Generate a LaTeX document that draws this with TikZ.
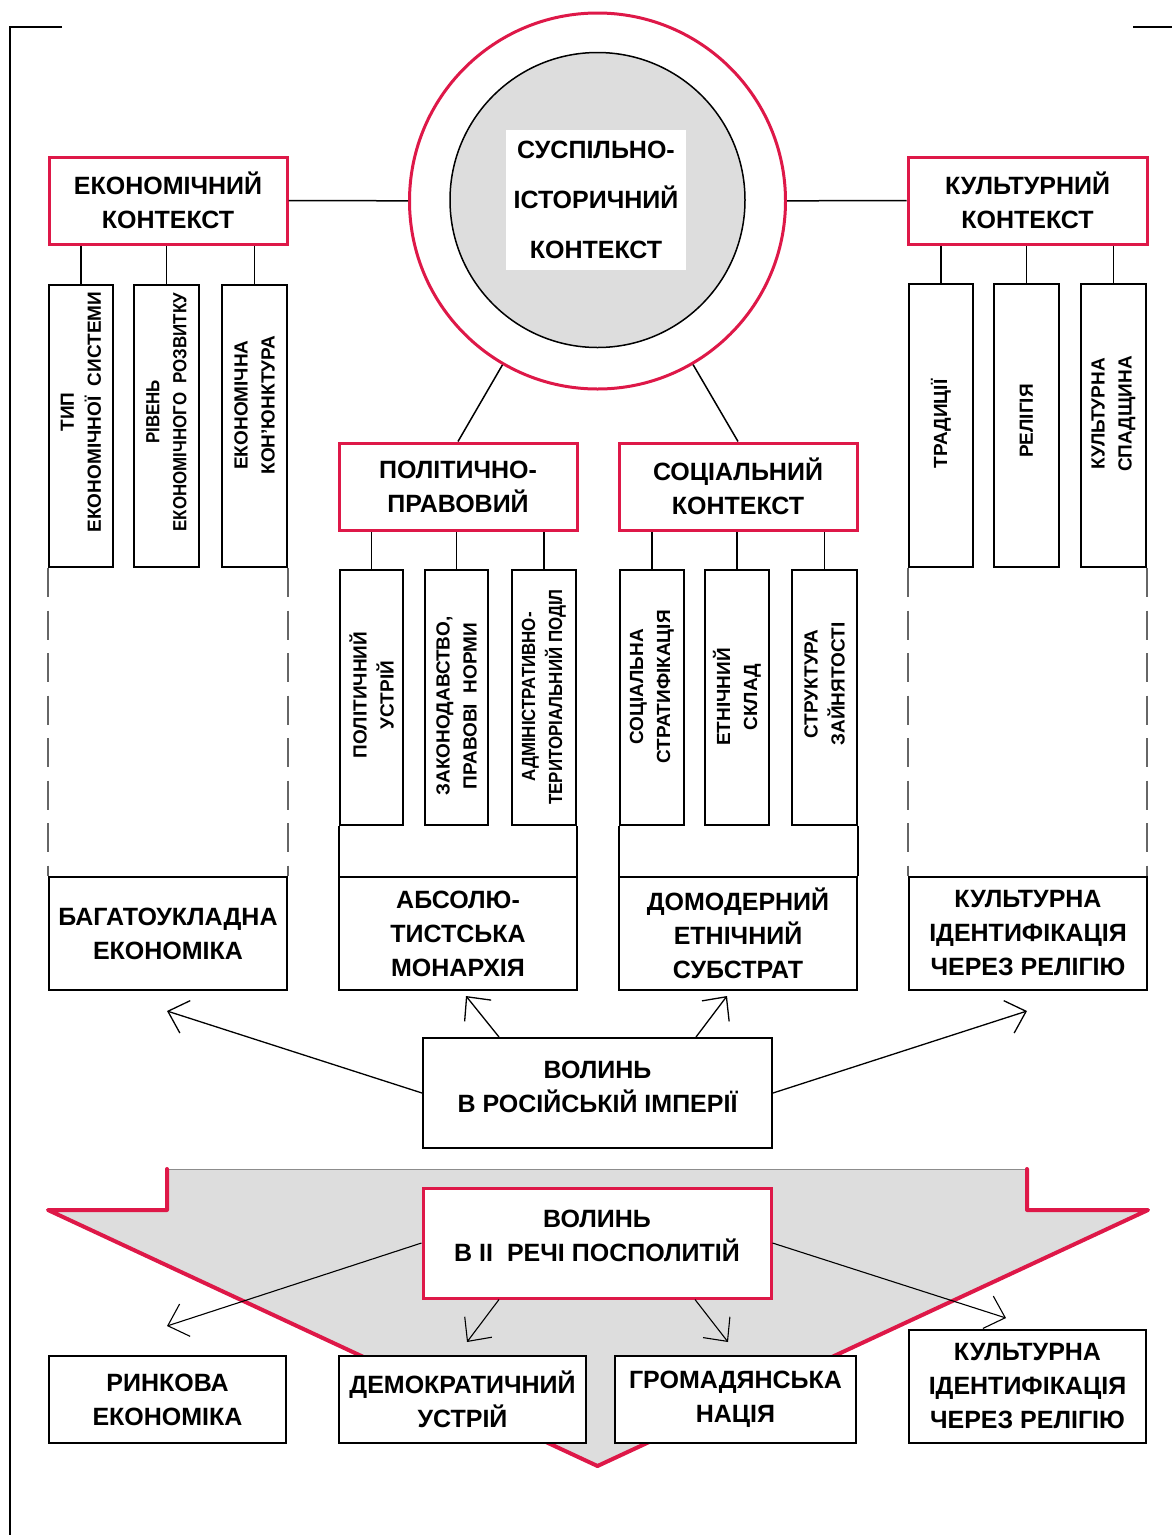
\documentclass[tikz,border=0pt]{standalone}
\usepackage{fontspec}
\setmainfont{Liberation Sans}
\newfontfamily\condf[FakeStretch=0.89]{Liberation Sans}
\usetikzlibrary{arrows.meta,calc}
\definecolor{rd}{RGB}{222,24,72}
\definecolor{gr}{RGB}{221,221,221}
\newcommand\bigf{\fontsize{25}{34}\selectfont\bfseries}
\newcommand\vf{\fontsize{19}{27}\selectfont\bfseries}
\begin{document}
\begin{tikzpicture}[x=1pt,y=-1pt,
 redbox/.style={draw=rd, line width=3pt, fill=white, inner sep=0pt, align=center, font=\bigf},
 blkbox/.style={draw=black, line width=2pt, fill=white, inner sep=0pt, align=center, font=\bigf},
 subbox/.style={draw=black, line width=2pt, inner sep=0pt},
 vtext/.style={rotate=90, align=center, font=\vf, inner sep=0pt},
 btext/.style={align=center, font=\bigf, inner sep=0pt},
 stem/.style={line width=1.5pt},
 dashln/.style={draw=black!60, line width=1.2pt, dash pattern=on 29pt off 13.5pt},
 arr/.style={line width=1.3pt, -{Straight Barb[length=18pt,width=34pt]}},
 arrb/.style={line width=1.1pt, -{Straight Barb[length=18pt,width=34pt]}},
 sz/.style 2 args={minimum width=#1pt, minimum height=#2pt},
]
\useasboundingbox (0,0) rectangle (1172,1535);
\fill[white] (0,0) rectangle (1172,1535);

% frame corners
\draw[line width=1.3pt] (62,27) -- (10,27) -- (10,1535);
\draw[line width=1.3pt] (1133,27) -- (1172,27);

% central circle
\node[circle, draw=rd, line width=3pt, minimum size=376pt, inner sep=0pt] (outer) at (597.5,201) {};
\node[circle, draw=black, line width=1.5pt, fill=gr, minimum size=295pt, inner sep=0pt] (inner) at (597.5,200) {};
\node[fill=white, minimum width=180pt, minimum height=140pt, inner sep=0pt, align=center,
      font=\fontsize{25}{50}\selectfont\bfseries] (ctext) at (596,200) {СУСПІЛЬНО-\\ІСТОРИЧНИЙ\\КОНТЕКСТ};

% context boxes
\node[redbox, sz={238}{87}] (eco) at (168,200.5) {ЕКОНОМІЧНИЙ\\КОНТЕКСТ};
\node[redbox, sz={239}{87}] (cul) at (1027.5,200.5) {КУЛЬТУРНИЙ\\КОНТЕКСТ};
\node[redbox, sz={238}{87}] (pol) at (458,486.5) {ПОЛІТИЧНО-\\ПРАВОВИЙ};
\node[redbox, sz={238}{87}] (soc) at (738,486.5) {СОЦІАЛЬНИЙ\\КОНТЕКСТ};

\draw[stem] (eco) -- (outer);
\draw[stem] (outer) -- (cul);
\draw[stem] (outer) -- (pol.north);
\draw[stem] (outer) -- (soc.north);

% economic sub-boxes
\node[subbox, sz={64}{282}] (e1) at (81,426) {};
\node[subbox, sz={65}{282}] (e2) at (166.5,426) {};
\node[subbox, sz={65}{282}] (e3) at (254.5,426) {};
\node[vtext] (e1t) at (81,412) {ТИП\\ЕКОНОМІЧНОЇ\ \ СИСТЕМИ};
\node[vtext, font=\fontsize{19}{27}\selectfont\condf\bfseries] (e2t) at (166.5,412) {РІВЕНЬ\\ЕКОНОМІЧНОГО\ \ РОЗВИТКУ};
\node[vtext] (e3t) at (254.5,405) {ЕКОНОМІЧНА\\КОН'ЮНКТУРА};
\foreach \b in {e1,e2,e3} \draw[stem] (\b.north) -- (\b.north |- eco.south);

% cultural sub-boxes
\node[subbox, sz={64}{283}] (c1) at (941,425.5) {};
\node[subbox, sz={65}{283}] (c2) at (1026.5,425.5) {};
\node[subbox, sz={65}{283}] (c3) at (1113.5,425.5) {};
\node[vtext] (c1t) at (941,424) {ТРАДИЦІЇ};
\node[vtext] (c2t) at (1026.5,421) {РЕЛІГІЯ};
\node[vtext] (c3t) at (1113.5,414) {КУЛЬТУРНА\\СПАДЩИНА};
\foreach \b in {c1,c2,c3} \draw[stem] (\b.north) -- (\b.north |- cul.south);

% political sub-boxes
\node[subbox, sz={63}{255}] (p1) at (371.5,697.5) {};
\node[subbox, sz={63}{255}] (p2) at (456.5,697.5) {};
\node[subbox, sz={64}{255}] (p3) at (544,697.5) {};
\node[vtext] (p1t) at (371.5,695) {ПОЛІТИЧНИЙ\\УСТРІЙ};
\node[vtext] (p2t) at (456.5,706) {ЗАКОНОДАВСТВО,\\ПРАВОВІ\ \ НОРМИ};
\node[vtext, font=\fontsize{19}{27}\selectfont\condf\bfseries] (p3t) at (544,697) {АДМІНІСТРАТИВНО-\\ТЕРИТОРІАЛЬНИЙ ПОДІЛ};
\foreach \b in {p1,p2,p3} \draw[stem] (\b.north) -- (\b.north |- pol.south);

% social sub-boxes
\node[subbox, sz={64}{255}] (s1) at (652,697.5) {};
\node[subbox, sz={64}{255}] (s2) at (737,697.5) {};
\node[subbox, sz={65}{255}] (s3) at (824.5,697.5) {};
\node[vtext] (s1t) at (652,687) {СОЦІАЛЬНА\\СТРАТИФІКАЦІЯ};
\node[vtext] (s2t) at (737,697) {ЕТНІЧНИЙ\\СКЛАД};
\node[vtext] (s3t) at (824.5,684) {СТРУКТУРА\\ЗАЙНЯТОСТІ};
\foreach \b in {s1,s2,s3} \draw[stem] (\b.north) -- (\b.north |- soc.south);

% lower result boxes
\node[blkbox, sz={238}{113}] (elow) at (168,933.5) {БАГАТОУКЛАДНА\\ЕКОНОМІКА};
\node[blkbox, sz={238}{113}] (plow) at (458,933.5) {АБСОЛЮ-\\ТИСТСЬКА\\МОНАРХІЯ};
\node[blkbox, sz={238}{113}] (slow) at (738,933.5) {ДОМОДЕРНИЙ\\ЕТНІЧНИЙ\\СУБСТРАТ};
\node[blkbox, line width=1.5pt, sz={238}{113}] (clow) at (1028,933.5) {КУЛЬТУРНА\\ІДЕНТИФІКАЦІЯ\\ЧЕРЕЗ РЕЛІГІЮ};

% column side lines
\draw[dashln] (e1.south west) -- (e1.south west |- elow.north);
\draw[dashln] (e3.south east) -- (e3.south east |- elow.north);
\draw[dashln] (c1.south west) -- (c1.south west |- clow.north);
\draw[dashln] (c3.south east) -- (c3.south east |- clow.north);
\draw[line width=2pt] (p1.south west) -- (p1.south west |- plow.north);
\draw[line width=2pt] (p3.south east) -- (p3.south east |- plow.north);
\draw[line width=2pt] (s1.south west) -- (s1.south west |- slow.north);
\draw[line width=2pt] (s3.south east) -- (s3.south east |- slow.north);

% Russian empire box
\node[blkbox, sz={349}{110}] (ri) at (597.5,1093) {};
\node[btext] (rit) at (597.5,1086.5) {ВОЛИНЬ\\В РОСІЙСЬКІЙ ІМПЕРІЇ};

\coordinate (ta1) at (167,1011);
\coordinate (ta2) at (466,996);
\coordinate (ta3) at (727,996);
\coordinate (ta4) at (1027,1011);
\draw[arr] (ri.west) -- (ta1);
\draw[arr] ($(ri.north)+(-98.5,0)$) -- (ta2);
\draw[arr] ($(ri.north)+(98.5,0)$) -- (ta3);
\draw[arr] (ri.east) -- (ta4);

% big grey arrow
\fill[gr] (167,1169) -- (1027,1169) -- (1027,1210) -- (1148,1210) -- (597.5,1466) -- (48,1210) -- (167,1210) -- cycle;
\draw[black!45, line width=1pt] (167,1169) -- (1027,1169);
\draw[rd, line width=4pt, line join=round, line cap=round] (167,1169) -- (167,1210) -- (48,1210) -- (597.5,1466) -- (1148,1210) -- (1027,1210) -- (1027,1169);

% Polish box
\node[redbox, sz={348}{110}] (pl) at (597,1243) {};
\node[btext] (plt) at (597,1236) {ВОЛИНЬ\\В ІІ\ \ РЕЧІ ПОСПОЛИТІЙ};

% bottom result boxes
\node[blkbox, sz={237}{87}] (rb1) at (167.5,1399.5) {РИНКОВА\\ЕКОНОМІКА};
\node[blkbox, sz={247}{87}] (rb2) at (462.5,1399.5) {ДЕМОКРАТИЧНИЙ\\УСТРІЙ};
\node[blkbox, sz={241}{87}] (rb3) at (735.5,1399.5) {ГРОМАДЯНСЬКА\\НАЦІЯ};
\node[blkbox, sz={237}{113}] (rb4) at (1027.5,1386.5) {КУЛЬТУРНА\\ІДЕНТИФІКАЦІЯ\\ЧЕРЕЗ РЕЛІГІЮ};

\coordinate (tb1) at (167,1326);
\coordinate (tb2) at (467,1342);
\coordinate (tb3) at (728,1342);
\coordinate (tb4) at (1006,1318);
\draw[arrb] (pl.west) -- (tb1);
\draw[arrb] ($(pl.south)+(-98,0)$) -- (tb2);
\draw[arrb] ($(pl.south)+(98,0)$) -- (tb3);
\draw[arrb] (pl.east) -- (tb4);
\end{tikzpicture}
\end{document}
